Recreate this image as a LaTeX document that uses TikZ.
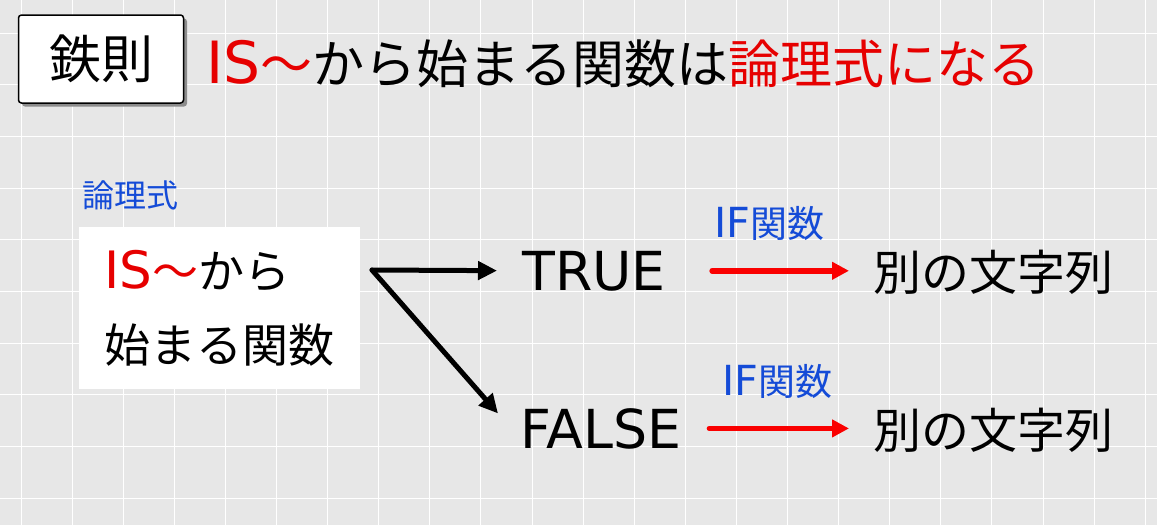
\documentclass[tikz,border=0pt]{standalone}
\usepackage{fontspec}
\setmainfont{Noto Sans CJK JP}
\newfontfamily\lat[Scale=1.12]{DejaVu Sans}
\usepackage{tikz}
\usetikzlibrary{arrows.meta,shadows}
\definecolor{boardgray}{RGB}{231,231,231}
\definecolor{isred}{RGB}{230,0,0}
\definecolor{arrowred}{RGB}{250,0,0}
\definecolor{noteblue}{RGB}{20,75,215}

\begin{document}
\begin{tikzpicture}[x=1pt, y=-1pt, semithick,
    lawbox/.style={draw=black, line width=1.5pt, fill=white, rounded corners=3pt,
      minimum width=165pt, minimum height=88pt,
      drop shadow={shadow xshift=3.5pt, shadow yshift=-3.5pt, fill=black!45, opacity=1},
      font=\fontsize{52}{60}\selectfont},
    headline/.style={inner sep=0pt, anchor=base west, font=\fontsize{52}{60}\selectfont},
    card/.style={fill=white, minimum width=281pt, minimum height=162pt, align=left,
      font=\fontsize{46}{74}\selectfont},
    word/.style={inner sep=0pt, anchor=base west, font=\fontsize{48}{56}\selectfont},
    note/.style={text=noteblue, inner sep=0pt, font=\fontsize{37}{44}\selectfont},
    branch/.style={-{Triangle[length=19pt,width=18pt]}, line width=5pt, line cap=round},
    iff/.style={-{Triangle[length=17pt,width=17pt]}, arrowred, line width=5.5pt, line cap=round}]
      \useasboundingbox (0,0) rectangle (1157,525);
      % board
      \fill [boardgray] (0,0) rectangle (1157,525);
      \foreach \gx in {0,...,22}
        \draw [white, line width=1pt] ({21+51.1*\gx},0) -- ({21+51.1*\gx},525);
      \foreach \gy in {0,...,9}
        \draw [white, line width=1pt] (0,{33+51.7*\gy}) -- (1157,{33+51.7*\gy});

      \node [lawbox] (law) at (101,59) {鉄則};
      \node [headline] (head) at (206,83)
        {\textcolor{isred}{{\lat IS}～}から始まる関数は\textcolor{isred}{論理式になる}};
      \node [note, font=\fontsize{32}{38}\selectfont] (logic) at (130,195) {論理式};
      \node [card] (func) at (219.5,308) {\textcolor{isred}{{\lat IS}～}から\\始まる関数};
      \node [word] (t) at (522,290) {\lat TRUE};
      \node [word] (f) at (520,448) {\lat FALSE};
      \node [word] (s1) at (873,290) {別の文字列};
      \node [word] (s2) at (873,448) {別の文字列};
      \coordinate (fork) at (372,270);
      \path
      (fork) edge [branch, shorten >=25pt] (t.west)
      (fork) edge [branch] ([xshift=-22pt, yshift=15pt]f.west)
      (t.east) edge [iff, shorten <=46pt, shorten >=24pt] node [note, above=27pt] {{\lat IF}関数} (t.east -| s1.west)
      (f.east) edge [iff, shorten <=28pt, shorten >=24pt] node [note, above=27pt] {{\lat IF}関数} (f.east -| s2.west)
      ;
  \end{tikzpicture}
\end{document}
